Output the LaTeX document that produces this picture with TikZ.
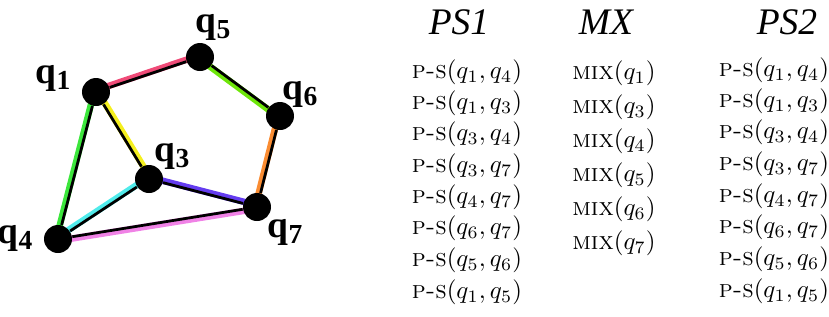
\documentclass[tikz,border=0pt]{standalone}
\usepackage{fontspec}
\usepackage{amsmath}
\usetikzlibrary{calc,backgrounds}
\newfontfamily\tms{Liberation Serif}
\definecolor{edgerose}{RGB}{240,75,120}
\definecolor{edgelime}{RGB}{110,230,10}
\definecolor{edgeorange}{RGB}{250,140,50}
\definecolor{edgegreen}{RGB}{60,230,60}
\definecolor{edgeyellow}{RGB}{245,240,30}
\definecolor{edgecyan}{RGB}{80,235,235}
\definecolor{edgepurple}{RGB}{100,60,240}
\definecolor{edgeviolet}{RGB}{240,130,230}
\newcommand{\qlab}[1]{{\tms\bfseries\fontsize{15}{15}\selectfont q\raisebox{-0.35ex}{\fontsize{11}{11}\selectfont #1}}}

\begin{document}
\begin{tikzpicture}[x=0.4pt,y=-0.4pt,dot/.style={circle,fill=black,inner sep=0pt,minimum size=11.2pt},lab/.style={inner sep=0pt},head/.style={inner sep=0pt,font=\tms\itshape\fontsize{15}{15}\selectfont},ent/.style={inner sep=0pt},blk/.style={line width=1.1pt},col/.style={line width=2.6pt,draw=#1}]
\useasboundingbox (0,0) rectangle (829,316);
% graph
\node[dot](q1) at (96,92){}; \node[dot](q5) at (200,57){}; \node[dot](q6) at (280,116){}; \node[dot](q3) at (149,179){}; \node[dot](q7) at (257,207){}; \node[dot](q4) at (58,239){};
\node[lab](l1) at (53,78){\qlab{1}}; \node[lab](l5) at (213,27){\qlab{5}}; \node[lab](l6) at (300,94){\qlab{6}};
\node[lab](l3) at (172,156){\qlab{3}}; \node[lab](l7) at (285,232){\qlab{7}}; \node[lab](l4) at (15,238){\qlab{4}};
\begin{scope}[on background layer]
\draw[col=edgerose]($(q1)!0.7pt!90:(q5)$)--($(q5)!0.7pt!-90:(q1)$); \draw[col=edgelime]($(q5)!0.7pt!-90:(q6)$)--($(q6)!0.7pt!90:(q5)$);
\draw[col=edgeorange]($(q6)!0.7pt!-90:(q7)$)--($(q7)!0.7pt!90:(q6)$); \draw[col=edgegreen]($(q1)!0.7pt!-90:(q4)$)--($(q4)!0.7pt!90:(q1)$);
\draw[col=edgeyellow]($(q1)!0.7pt!90:(q3)$)--($(q3)!0.7pt!-90:(q1)$); \draw[col=edgecyan]($(q4)!0.7pt!90:(q3)$)--($(q3)!0.7pt!-90:(q4)$);
\draw[col=edgeviolet]($(q4)!0.7pt!-90:(q7)$)--($(q7)!0.7pt!90:(q4)$); \draw[col=edgepurple]($(q3)!0.7pt!90:(q7)$)--($(q7)!0.7pt!-90:(q3)$);
\draw[blk](q1)--(q5); \draw[blk](q5)--(q6); \draw[blk](q6)--(q7); \draw[blk](q1)--(q4);
\draw[blk](q1)--(q3); \draw[blk](q4)--(q3); \draw[blk](q4)--(q7); \draw[blk](q3)--(q7);
\end{scope}
% columns
\node[head](h1) at (459,22){PS1}; \node[head](h2) at (606,22){MX}; \node[head](h3) at (787,22){PS2};
\node[ent](a1) at (467,72){\textsc{p-s}$(q_1,q_4)$}; \node[ent](a2) at (467,103){\textsc{p-s}$(q_1,q_3)$}; \node[ent](a3) at (467,134){\textsc{p-s}$(q_3,q_4)$}; \node[ent](a4) at (467,166){\textsc{p-s}$(q_3,q_7)$};
\node[ent](a5) at (467,197){\textsc{p-s}$(q_4,q_7)$}; \node[ent](a6) at (467,228){\textsc{p-s}$(q_6,q_7)$}; \node[ent](a7) at (467,260){\textsc{p-s}$(q_5,q_6)$}; \node[ent](a8) at (467,292){\textsc{p-s}$(q_1,q_5)$};
\node[ent](m1) at (614,73){\textsc{mix}$(q_1)$}; \node[ent](m2) at (614,107){\textsc{mix}$(q_3)$}; \node[ent](m3) at (614,141){\textsc{mix}$(q_4)$};
\node[ent](m4) at (614,175){\textsc{mix}$(q_5)$}; \node[ent](m5) at (614,209){\textsc{mix}$(q_6)$}; \node[ent](m6) at (614,243){\textsc{mix}$(q_7)$};
\node[ent](b1) at (774,70){\textsc{p-s}$(q_1,q_4)$}; \node[ent](b2) at (774,101){\textsc{p-s}$(q_1,q_3)$}; \node[ent](b3) at (774,132){\textsc{p-s}$(q_3,q_4)$}; \node[ent](b4) at (774,164){\textsc{p-s}$(q_3,q_7)$};
\node[ent](b5) at (774,196){\textsc{p-s}$(q_4,q_7)$}; \node[ent](b6) at (774,227){\textsc{p-s}$(q_6,q_7)$}; \node[ent](b7) at (774,259){\textsc{p-s}$(q_5,q_6)$}; \node[ent](b8) at (774,291){\textsc{p-s}$(q_1,q_5)$};
\end{tikzpicture}
\end{document}
